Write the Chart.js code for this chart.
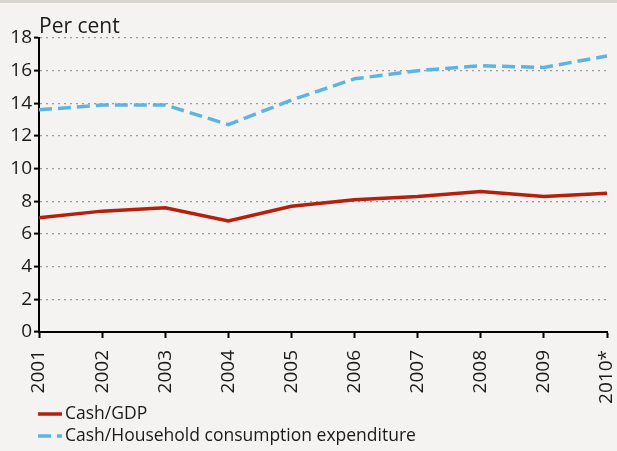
<!DOCTYPE html>
<html><head><meta charset="utf-8">
<script src="https://cdn.jsdelivr.net/npm/chart.js@4/dist/chart.umd.min.js"></script>
<style>html,body{margin:0;padding:0;background:#f4f3f1;overflow:hidden}#wrap{width:617px;height:451px;position:relative}canvas{display:block}</style>
</head><body><div id="wrap"><canvas id="c" width="617" height="451"></canvas></div>
<script>
const years = ['2001','2002','2003','2004','2005','2006','2007','2008','2009','2010*'];
const cashGdp = [7.0, 7.4, 7.6, 6.8, 7.7, 8.1, 8.3, 8.6, 8.3, 8.5];
const cashHousehold = [13.6, 13.9, 13.9, 12.7, 14.2, 15.5, 16.0, 16.3, 16.2, 16.9];
const seriesNames = ['Cash/GDP', 'Cash/Household consumption expenditure'];
const unitLabel = 'Per cent';
const yMin = 0, yMax = 18, yStep = 2;

const FONT = '"Open Sans", "DejaVu Sans", sans-serif';
const RED = '#b3200e', BLUE = '#5cb5e1', TXT = '#1a1a1a';

const bgPlugin = {
  id: 'bg',
  beforeDraw(chart) {
    const ctx = chart.ctx;
    ctx.save();
    ctx.fillStyle = '#f4f3f1';
    ctx.fillRect(0, 0, chart.width, chart.height);
    ctx.fillStyle = '#d9d5d0';
    ctx.fillRect(0, 0, chart.width, 3);
    ctx.restore();
  },
  afterDraw(chart) {
    const ctx = chart.ctx;
    ctx.save();
    ctx.font = '21px ' + FONT;
    ctx.fillStyle = TXT;
    ctx.textAlign = 'left';
    ctx.textBaseline = 'alphabetic';
    ctx.fillText(unitLabel, 39, 33);
    ctx.font = '17.5px ' + FONT;
    ctx.textBaseline = 'middle';
    chart.data.datasets.forEach((ds, i) => {
      const y = 414 + 22 * i;
      ctx.beginPath();
      ctx.setLineDash(ds.borderDash || []);
      ctx.strokeStyle = ds.borderColor;
      ctx.lineWidth = ds.borderWidth;
      ctx.moveTo(38, y); ctx.lineTo(62, y);
      ctx.stroke();
      ctx.setLineDash([]);
      ctx.fillStyle = TXT;
      ctx.fillText(ds.label, 65, y);
    });
    ctx.restore();
  }
};

new Chart(document.getElementById('c'), {
  type: 'line',
  data: {
    labels: years,
    datasets: [
      { label: seriesNames[0], data: cashGdp, borderColor: RED, backgroundColor: RED, borderWidth: 3.5, pointRadius: 0, tension: 0 },
      { label: seriesNames[1], data: cashHousehold, borderColor: BLUE, backgroundColor: BLUE, borderWidth: 3.5, borderDash: [13, 6], pointRadius: 0, tension: 0 }
    ]
  },
  options: {
    responsive: false,
    devicePixelRatio: 1,
    animation: false,
    layout: { padding: { top: 38, right: 10, bottom: 0, left: 0 } },
    plugins: { legend: { display: false }, tooltip: { enabled: false }, title: { display: false } },
    scales: {
      x: {
        offset: false,
        ticks: { autoSkip: false, minRotation: 90, maxRotation: 90, color: TXT, font: { family: FONT, size: 19 }, padding: 12 },
        grid: { drawOnChartArea: false, drawTicks: true, tickLength: 6, tickColor: '#000', tickWidth: 2 },
        border: { color: '#000', width: 2 },
        afterFit(s) { s.height = 119; s.paddingLeft = 0; s.paddingRight = 0; }
      },
      y: {
        min: yMin, max: yMax,
        ticks: { stepSize: yStep, color: TXT, font: { family: FONT, size: 19 }, padding: 2 },
        grid: { color: '#9a9a9a', lineWidth: 1.2, tickLength: 5, tickColor: '#000', tickWidth: 2, tickBorderDash: [] },
        border: { color: '#000', width: 2, dash: [2, 4] },
        afterFit(s) { s.width = 39; s.paddingTop = 0; s.paddingBottom = 0; }
      }
    }
  },
  plugins: [bgPlugin]
});
</script>
</body></html>
